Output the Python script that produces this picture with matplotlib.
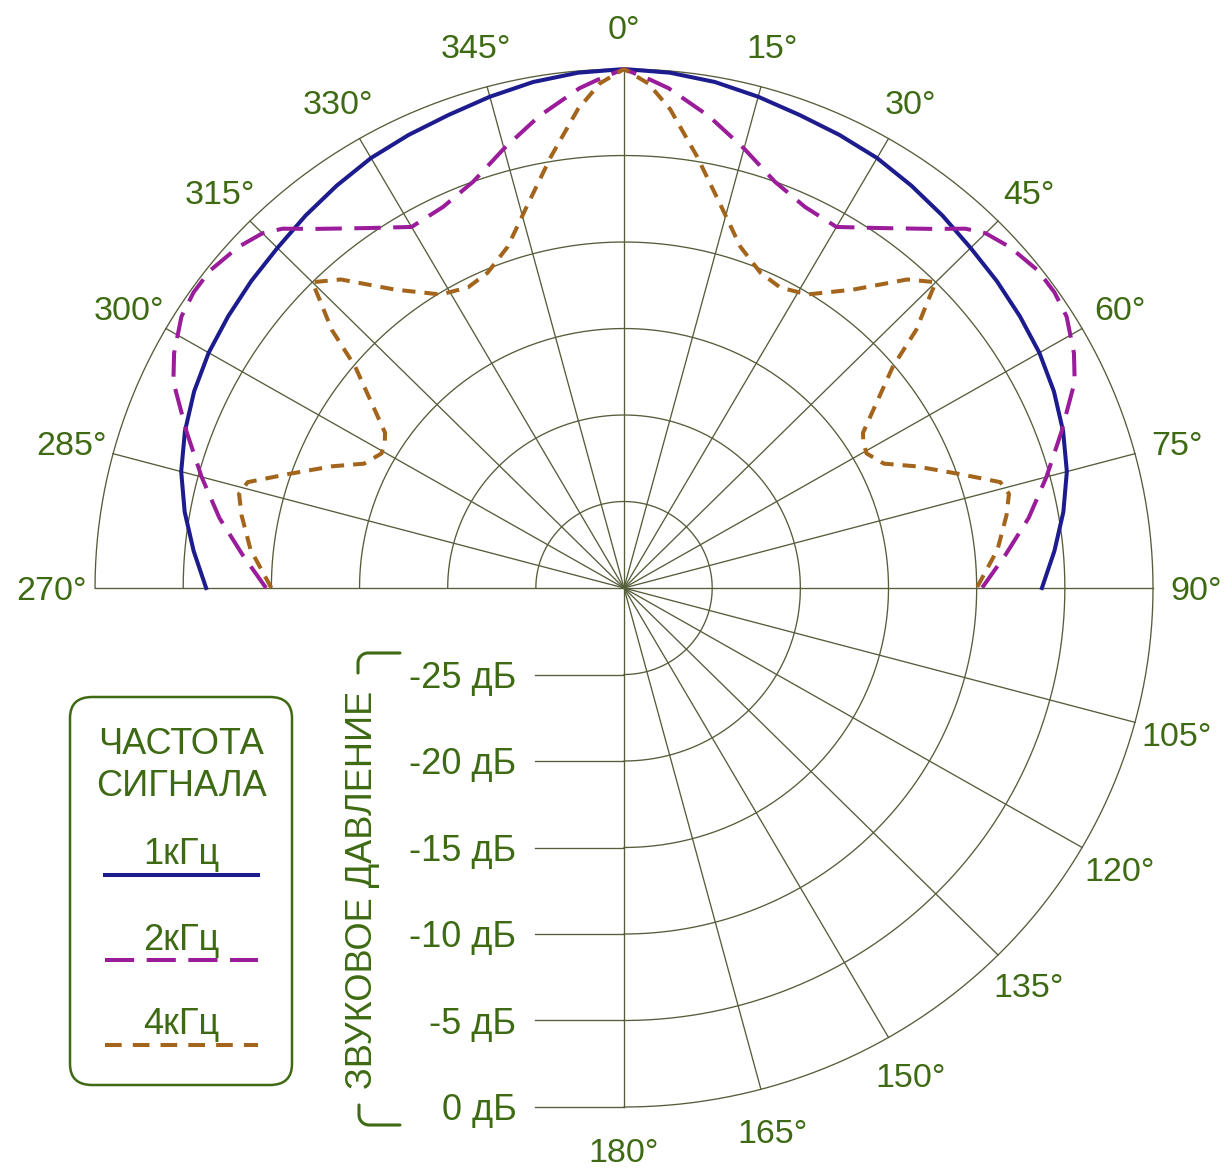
import numpy as np
import matplotlib.pyplot as plt
from matplotlib.patches import FancyBboxPatch
from matplotlib.lines import Line2D

plt.rcParams['font.family'] = ['Liberation Sans', 'DejaVu Sans']
plt.rcParams['lines.scale_dashes'] = False

# right half of each pattern (0..90 deg), the left half is the mirror image
ang_1k = [0, 5, 10, 15, 20, 25, 30, 35, 40, 45, 50, 55, 60, 65, 70, 75, 80, 85, 90]
db_1k = [0, -0.1, -0.3, -0.6, -0.9, -1.1, -1.3, -1.6, -1.9, -2.2, -2.4, -2.6,
         -2.8, -3.1, -3.5, -4.0, -4.7, -5.5, -6.3]

ang_2k = [0, 3, 5, 10, 15, 20, 25, 30, 35, 40, 43, 45, 48, 52, 55, 58, 62, 65,
          70, 75, 80, 85, 90]
db_2k = [0, -0.6, -1.0, -2.3, -3.7, -5.0, -5.7, -5.9, -4.6, -2.9, -1.6, -1.0,
         -0.55, -0.2, -0.2, -0.4, -1.1, -1.8, -3.6, -5.2, -6.7, -8.3, -9.7]

ang_4k = [0, 2.7, 5.4, 9.4, 13.7, 18.5, 23, 27, 31.5, 37, 42, 45, 46, 48, 50,
          53, 56.5, 58, 60.5, 64, 67, 71, 74, 76, 79, 84, 90]
db_4k = [0, -0.8, -2.2, -4.7, -7.1, -9.2, -10.2, -10.5, -10.1, -8.4, -6.0, -5.0,
         -6.0, -7.7, -10.1, -12.0, -13.75, -14.0, -14.2, -13.6, -12.0, -9.8,
         -7.8, -7.5, -7.9, -8.7, -10.0]

ring_db = [-25, -20, -15, -10, -5, 0]
ring_labels = ['-25 дБ', '-20 дБ', '-15 дБ', '-10 дБ', '-5 дБ', '0 дБ']
spoke_deg = list(range(-90, 181, 15))
spoke_labels = ['270°', '285°', '300°', '315°', '330°', '345°', '0°', '15°',
                '30°', '45°', '60°', '75°', '90°', '105°', '120°', '135°',
                '150°', '165°', '180°']
legend_names = ['1кГц', '2кГц', '4кГц']

green = '#3d6a12'
grid_c = '#555d3a'
colors = ['#1c1c8e', '#9a1c9a', '#a3641c']
W, H = 1232, 1171
dy = 0.23  # small downward nudge so glyphs sit centred like the original


def mirror(ang, db):
    a = np.array(ang, dtype=float)
    d = np.array(db, dtype=float)
    return np.concatenate([-a[::-1], a[1:]]), np.concatenate([d[::-1], d[1:]])


def to_xy(ang, db):
    r = np.asarray(db) + 30.0
    t = np.radians(ang)
    return r * np.sin(t), r * np.cos(t)


def fx(px):
    return px / W


def fy(py):
    return 1 - py / H


fig = plt.figure(figsize=(W / 100, H / 100), dpi=100)
ax = fig.add_axes([0, 0, 1, 1])
ax.set_xlim(-35.39, 34.48)
ax.set_ylim(-33.70, 33.99)
ax.axis('off')

# grid: rings and spokes (lower-left quadrant left empty)
t = np.linspace(-90, 180, 400)
for d in ring_db:
    x, y = to_xy(t, np.full_like(t, d))
    ax.plot(x, y, color=grid_c, lw=0.95, zorder=1)
for a, lab in zip(spoke_deg, spoke_labels):
    x, y = to_xy([a, a], [-30, 0])
    ax.plot(x, y, color=grid_c, lw=0.95, zorder=1)
    lx, ly = to_xy(a, 2.45)
    ax.text(lx, ly - dy, lab, color=green, fontsize=24.5, ha='center', va='center')

# dB scale on the lower-left
for d, lab in zip(ring_db, ring_labels):
    yy = -(d + 30.0)
    ax.plot([-5.05, 0], [yy, yy], color=grid_c, lw=0.95, zorder=1)
    ax.text(-6.1, yy - dy, lab, color=green, fontsize=26, ha='right', va='center')

# patterns
styles = [dict(ls='-'), dict(dashes=(19, 9)), dict(dashes=(9.5, 6.5))]
for (ang, db), c, st in zip([(ang_1k, db_1k), (ang_2k, db_2k), (ang_4k, db_4k)],
                            colors, styles):
    a, d = mirror(ang, db)
    x, y = to_xy(a, d)
    ax.plot(x, y, color=c, lw=2.9, zorder=3, **st)

# axis title with bracket ends
fig.text(fx(362), fy(890), 'ЗВУКОВОЕ ДАВЛЕНИЕ', rotation=90, color=green,
         fontsize=26, ha='center', va='center')
s = np.linspace(0, np.pi / 2, 20)
bx = np.concatenate([[358], 368 - 10 * np.cos(s), [400]])
by = np.concatenate([[673], 663 - 10 * np.sin(s), [653]])
fig.add_artist(Line2D(fx(bx), fy(by), color=green, lw=2.2,
                      transform=fig.transFigure, solid_capstyle='round'))
bx = np.concatenate([[359], 369 - 10 * np.cos(s), [400]])
by = np.concatenate([[1105], 1115 + 10 * np.sin(s), [1125]])
fig.add_artist(Line2D(fx(bx), fy(by), color=green, lw=2.2,
                      transform=fig.transFigure, solid_capstyle='round'))

# legend box
box = FancyBboxPatch((fx(70), fy(1085)), fx(222), 388 / H,
                     boxstyle='round,pad=0,rounding_size=0.018',
                     transform=fig.transFigure, fill=False, ec=green, lw=1.8)
fig.add_artist(box)
fig.text(fx(181), fy(745), 'ЧАСТОТА', color=green, fontsize=26, ha='center', va='center')
fig.text(fx(181), fy(786), 'СИГНАЛА', color=green, fontsize=26, ha='center', va='center')
leg_styles = [dict(ls='-'), dict(dashes=(21, 9)), dict(dashes=(12, 8))]
for i, (name, c, st) in enumerate(zip(legend_names, colors, leg_styles)):
    ty = 855 + 85 * i
    ly = ty + 20
    fig.text(fx(181), fy(ty), name, color=green, fontsize=26, ha='center', va='center')
    fig.add_artist(Line2D([fx(105), fx(258)], [fy(ly), fy(ly)], color=c, lw=2.9,
                          transform=fig.transFigure, **st))

fig.savefig('out.png', dpi=100)
